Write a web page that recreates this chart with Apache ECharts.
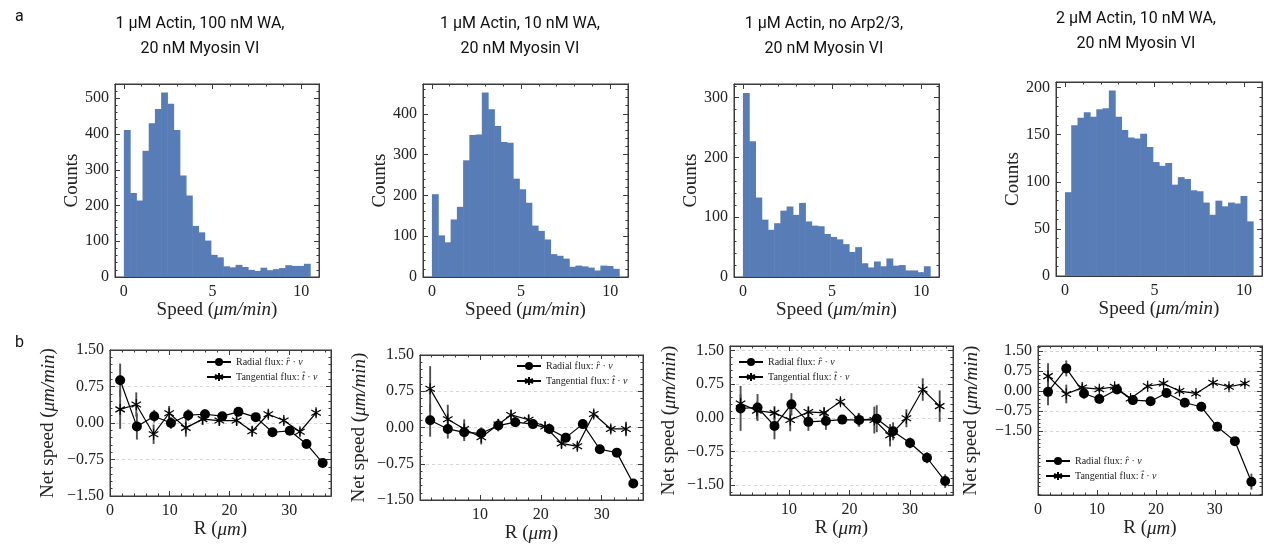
<!DOCTYPE html>
<html><head><meta charset="utf-8">
<script src="https://cdn.jsdelivr.net/npm/echarts@6/dist/echarts.min.js"></script>
<style>html,body{margin:0;padding:0;background:#fff}#c{width:1264px;height:544px}</style>
</head><body><div id="c"></div>
<script>
// ---------------- DATA ----------------
const histTitles = [
  '1 µM Actin, 100 nM WA,\n20 nM Myosin VI',
  '1 µM Actin, 10 nM WA,\n20 nM Myosin VI',
  '1 µM Actin, no Arp2/3,\n20 nM Myosin VI',
  '2 µM Actin, 10 nM WA,\n20 nM Myosin VI'
];
const binWidth = 0.35; // speed bins 0 .. 10.5
const hist1 = [411,235,214,353,430,470,516,485,411,284,228,143,125,102,62,55,30,27,34,28,20,17,26,19,22,25,33,31,31,37];
const hist2 = [203,102,85,141,172,286,348,349,452,411,370,331,329,241,215,182,126,113,92,56,52,45,25,28,26,23,16,28,27,20];
const hist3 = [308,227,133,96,79,90,111,118,104,124,93,86,85,72,67,63,55,42,50,23,16,26,18,31,19,20,11,11,8,18];
const hist4 = [89,160,168,174,169,177,178,197,169,155,147,146,151,137,121,117,120,97,105,103,91,90,78,65,80,74,78,77,85,58];
const speedTicks = [0,5,10];
const countTicks1 = [0,100,200,300,400,500];
const countTicks2 = [0,100,200,300,400];
const countTicks3 = [0,100,200,300];
const countTicks4 = [0,50,100,150,200];
const netTicks = [1.5,0.75,0,-0.75,-1.5];
const rTicksA = [0,10,20,30];
const rTicksB = [10,20,30];

// panel b1
const b1RadR = [1.7,4.5,7.4,10.2,13.1,15.9,18.8,21.5,24.4,27.2,30.1,32.9,35.6];
const b1RadV = [0.88,-0.07,0.14,0.00,0.16,0.18,0.14,0.23,0.12,-0.19,-0.16,-0.43,-0.82];
const b1RadE = [0.34,0.27,0.13,0.12,0.12,0.10,0.08,0.08,0.07,0.06,0.06,0.06,0.06];
const b1TanR = [1.7,4.4,7.3,9.9,12.7,15.5,18.3,21.2,23.8,26.5,29.1,31.8,34.5];
const b1TanV = [0.28,0.38,-0.23,0.20,-0.10,0.08,0.05,0.05,-0.17,0.18,0.05,-0.18,0.21];
const b1TanE = [0.40,0.25,0.20,0.15,0.18,0.12,0.10,0.10,0.10,0.08,0.08,0.08,0.08];
// panel b2
const b2RadR = [1.8,4.7,7.4,10.2,13.0,15.8,18.7,21.4,24.1,26.9,29.7,32.5,35.2];
const b2RadV = [0.15,-0.03,-0.10,-0.12,0.04,0.11,0.07,-0.03,-0.21,0.07,-0.45,-0.52,-1.16];
const b2RadE = [0.34,0.20,0.18,0.12,0.12,0.10,0.10,0.10,0.10,0.08,0.06,0.06,0.08];
const b2TanR = [1.8,4.7,7.4,10.2,13.0,15.1,18.0,20.7,23.4,26.0,28.7,31.5,34.0];
const b2TanV = [0.80,0.17,-0.03,-0.20,0.06,0.26,0.16,0.02,-0.33,-0.39,0.28,-0.03,-0.03];
const b2TanE = [0.47,0.30,0.20,0.15,0.12,0.10,0.10,0.10,0.10,0.08,0.08,0.08,0.15];
// panel b3
const b3RadR = [2.0,4.8,7.6,10.4,13.2,16.1,18.8,21.6,24.5,27.2,30.0,32.8,35.8];
const b3RadV = [0.21,0.23,-0.18,0.30,-0.09,-0.07,-0.04,-0.05,-0.02,-0.30,-0.56,-0.89,-1.41];
const b3RadE = [0.50,0.30,0.30,0.25,0.20,0.20,0.10,0.15,0.30,0.20,0.12,0.12,0.15];
const b3TanR = [2.0,4.7,7.6,10.2,13.2,15.8,18.5,21.5,24.1,26.7,29.4,32.1,34.9];
const b3TanV = [0.32,0.16,0.11,-0.05,0.13,0.11,0.36,-0.04,-0.05,-0.39,-0.01,0.63,0.26];
const b3TanE = [0.20,0.20,0.15,0.25,0.12,0.12,0.08,0.15,0.30,0.25,0.20,0.25,0.35];
// panel b4
const b4RadR = [1.7,4.8,7.8,10.4,13.4,16.1,19.1,21.8,24.9,27.7,30.4,33.4,36.2];
const b4RadV = [-0.04,0.84,-0.10,-0.31,0.05,-0.35,-0.39,-0.08,-0.45,-0.60,-1.35,-1.89,-3.41];
const b4RadE = [0.50,0.30,0.20,0.12,0.10,0.10,0.10,0.10,0.10,0.10,0.10,0.10,0.30];
const b4TanR = [1.7,4.8,7.5,10.4,13.0,15.7,18.6,21.3,24.0,26.8,29.7,32.4,35.1];
const b4TanV = [0.55,-0.12,0.12,0.06,0.15,-0.29,0.17,0.27,-0.01,-0.10,0.30,0.15,0.27];
const b4TanE = [0.48,0.35,0.15,0.10,0.10,0.10,0.10,0.10,0.10,0.10,0.10,0.10,0.10];

const radialName = 'Radial flux: r̂ · v';
const tangName = 'Tangential flux: t̂ · v';

// ---------------- BUILD ----------------
const SERIF = "'Liberation Serif','DejaVu Serif',serif";
const AX = '#3a3a3a';
const BAR = '#587db6';
const grids = [], xAxes = [], yAxes = [], series = [], legends = [];

// minor tick positions: subdivide the major step in 5 inside [min,max]
function minorTicks(min, max, step) {
  const out = [], m = step / 5;
  for (let k = Math.ceil(min / m); k * m <= max + 1e-9; k++) {
    const v = +(k * m).toFixed(6);
    if (Math.abs(v / step - Math.round(v / step)) > 1e-6) out.push(v);
  }
  return out;
}

function panel(rect, xs, ys) {
  const gi = grids.length;
  grids.push({left: rect[0], top: rect[1], width: rect[2], height: rect[3], show: true,
    borderColor: AX, borderWidth: 1, backgroundColor: 'transparent'});
  const xi = xAxes.length, yi = yAxes.length;
  const line = {show: true, onZero: false, lineStyle: {color: AX, width: 1}};
  const tick = (v, len) => ({show: true, inside: true, length: len, customValues: v, lineStyle: {color: AX, width: 1}});
  const nameStyle = {fontFamily: SERIF, fontSize: 19, color: '#222', rich: {it: {fontFamily: SERIF, fontSize: 19, fontStyle: 'italic', color: '#222'}}};
  xAxes.push({type: 'value', gridIndex: gi, position: 'bottom', min: xs.min, max: xs.max,
    axisLine: line, axisTick: tick(xs.ticks, 5), splitLine: {show: false},
    axisLabel: {customValues: xs.ticks, margin: 7, color: '#222', fontFamily: SERIF, fontSize: 16},
    name: xs.name, nameLocation: 'middle', nameGap: xs.gap, nameTextStyle: nameStyle});
  yAxes.push({type: 'value', gridIndex: gi, position: 'left', min: ys.min, max: ys.max,
    axisLine: line, axisTick: tick(ys.ticks, 5),
    splitLine: ys.grid ? {show: true, lineStyle: {type: [3, 3], color: '#d6d6d6', width: 1}} : {show: false},
    axisLabel: {customValues: ys.ticks, margin: 6, color: '#222', fontFamily: SERIF, fontSize: 16, formatter: ys.fmt},
    name: ys.name, nameLocation: 'middle', nameGap: ys.gap, nameRotate: 90, nameTextStyle: nameStyle});
  const xMin = minorTicks(xs.min, xs.max, xs.step);
  const yMin = minorTicks(ys.min, ys.max, ys.step);
  const extra = (pos, vals, len) => ({type: 'value', gridIndex: gi, position: pos,
    axisLine: {show: pos === 'top' || pos === 'right', onZero: false, lineStyle: {color: AX, width: 1}},
    axisTick: tick(vals, len), axisLabel: {show: false}, splitLine: {show: false}});
  xAxes.push(Object.assign(extra('top', xs.ticks, 5), {min: xs.min, max: xs.max}));
  xAxes.push(Object.assign(extra('top', xMin, 2.5), {min: xs.min, max: xs.max}));
  xAxes.push(Object.assign(extra('bottom', xMin, 2.5), {min: xs.min, max: xs.max}));
  yAxes.push(Object.assign(extra('right', ys.ticks, 5), {min: ys.min, max: ys.max}));
  yAxes.push(Object.assign(extra('right', yMin, 2.5), {min: ys.min, max: ys.max}));
  yAxes.push(Object.assign(extra('left', yMin, 2.5), {min: ys.min, max: ys.max}));
  return {xi: xi, yi: yi};
}

function histogram(rect, counts, yMax, yTicks, yStep) {
  const ax = panel(rect,
    {min: -0.5, max: 11, ticks: speedTicks, step: 5, name: 'Speed ({it|μm/min})', gap: 22},
    {min: 0, max: yMax, ticks: yTicks, step: yStep, name: 'Counts', gap: 33, fmt: v => String(v)});
  series.push({type: 'custom', xAxisIndex: ax.xi, yAxisIndex: ax.yi, clip: true,
    data: counts.map((c, i) => [(i + 0.5) * binWidth, c]),
    encode: {x: 0, y: 1},
    renderItem: (p, api) => {
      const x = api.value(0), y = api.value(1);
      const a = api.coord([x - binWidth / 2, 0]);
      const b = api.coord([x + binWidth / 2, y]);
      return {type: 'rect', shape: {x: a[0], y: b[1], width: b[0] - a[0] + 0.6, height: a[1] - b[1]},
        style: {fill: BAR}};
    }});
}

const STAR = 'path://M10,0L10,20M1.34,5L18.66,15M1.34,15L18.66,5';
const fmtNet = v => v.toFixed(2).replace('-', '\u2212');

function fluxPanel(rect, xr, yr, rTicks, gap, d, legendPos) {
  const ax = panel(rect,
    {min: xr[0], max: xr[1], ticks: rTicks, step: 10, name: 'R ({it|μm})', gap: 24},
    {min: yr[0], max: yr[1], ticks: netTicks, step: 0.75, name: 'Net speed ({it|μm/min})', gap: gap, fmt: fmtNet, grid: true});
  const errSeries = (R, V, E) => ({type: 'custom', xAxisIndex: ax.xi, yAxisIndex: ax.yi, z: 2,
    data: R.map((r, i) => [r, V[i] - E[i], V[i] + E[i]]),
    encode: {x: 0, y: [1, 2]},
    renderItem: (p, api) => {
      const a = api.coord([api.value(0), api.value(1)]);
      const b = api.coord([api.value(0), api.value(2)]);
      return {type: 'line', shape: {x1: a[0], y1: a[1], x2: b[0], y2: b[1]},
        style: {stroke: '#505050', lineWidth: 1.9}};
    }});
  series.push(errSeries(d.radR, d.radV, d.radE));
  series.push(errSeries(d.tanR, d.tanV, d.tanE));
  series.push({type: 'line', name: radialName, xAxisIndex: ax.xi, yAxisIndex: ax.yi, z: 4,
    data: d.radR.map((r, i) => [r, d.radV[i]]), symbol: 'circle', symbolSize: 10,
    lineStyle: {color: '#000', width: 1.2}, itemStyle: {color: '#000'}, animation: false});
  series.push({type: 'line', name: tangName, xAxisIndex: ax.xi, yAxisIndex: ax.yi, z: 3,
    data: d.tanR.map((r, i) => [r, d.tanV[i]]), symbol: STAR, symbolSize: 11, symbolKeepAspect: true,
    lineStyle: {color: '#000', width: 1.2}, itemStyle: {color: '#000', borderColor: '#000', borderWidth: 1.2},
    animation: false});
  legends.push({left: legendPos[0], top: legendPos[1], orient: 'vertical', itemGap: 5,
    itemWidth: 24, itemHeight: 10, backgroundColor: '#fff', padding: [2, 3],
    data: [radialName, tangName], selectedMode: false,
    formatter: n => n === radialName ? 'Radial flux: {it|r̂} · {it|v}' : 'Tangential flux: {it|t̂} · {it|v}',
    textStyle: {fontFamily: SERIF, fontSize: 10, color: '#222',
      rich: {it: {fontFamily: SERIF, fontSize: 10, fontStyle: 'italic', color: '#222'}}}});
}

histogram([115, 84, 204, 193], hist1, 540, countTicks1, 100);
histogram([423, 84, 205, 193], hist2, 473, countTicks2, 100);
histogram([734, 84, 205, 193], hist3, 323, countTicks3, 100);
histogram([1056, 82, 206, 194], hist4, 206, countTicks4, 50);

fluxPanel([110, 350, 221, 146], [0, 37], [-1.5, 1.5], rTicksA, 52,
  {radR: b1RadR, radV: b1RadV, radE: b1RadE, tanR: b1TanR, tanV: b1TanV, tanE: b1TanE}, [203, 355]);
fluxPanel([420, 355, 223, 146], [0.13, 36.8], [-1.5, 1.5], rTicksB, 51,
  {radR: b2RadR, radV: b2RadV, radE: b2RadE, tanR: b2TanR, tanV: b2TanV, tanE: b2TanE}, [513, 359]);
fluxPanel([730, 346, 223, 149], [0.25, 37.1], [-1.72, 1.6], rTicksB, 51,
  {radR: b3RadR, radV: b3RadV, radE: b3RadE, tanR: b3TanR, tanV: b3TanV, tanE: b3TanE}, [735, 355]);
fluxPanel([1038, 346, 224, 149], [0, 38], [-3.91, 1.68], rTicksA, 57,
  {radR: b4RadR, radV: b4RadV, radE: b4RadE, tanR: b4TanR, tanV: b4TanV, tanE: b4TanE}, [1042, 454]);

const titleCenters = [[195, 6], [515, 6], [819, 6], [1131, 1]];
const titles = histTitles.map((t, i) => ({text: t, left: titleCenters[i][0], top: titleCenters[i][1], textAlign: 'center',
  textStyle: {fontFamily: 'Roboto', fontSize: 16, fontWeight: 'normal', color: '#111', lineHeight: 25}}));
titles.push({text: 'a', left: 10, top: 4, textStyle: {fontFamily: 'Roboto', fontSize: 16, fontWeight: 'normal', color: '#111'}});
titles.push({text: 'b', left: 10, top: 330, textStyle: {fontFamily: 'Roboto', fontSize: 16, fontWeight: 'normal', color: '#111'}});

const chart = echarts.init(document.getElementById('c'), null, {renderer: 'canvas'});
chart.setOption({
  animation: false,
  backgroundColor: '#fff',
  title: titles,
  grid: grids, xAxis: xAxes, yAxis: yAxes, legend: legends, series: series
});
</script></body></html>
